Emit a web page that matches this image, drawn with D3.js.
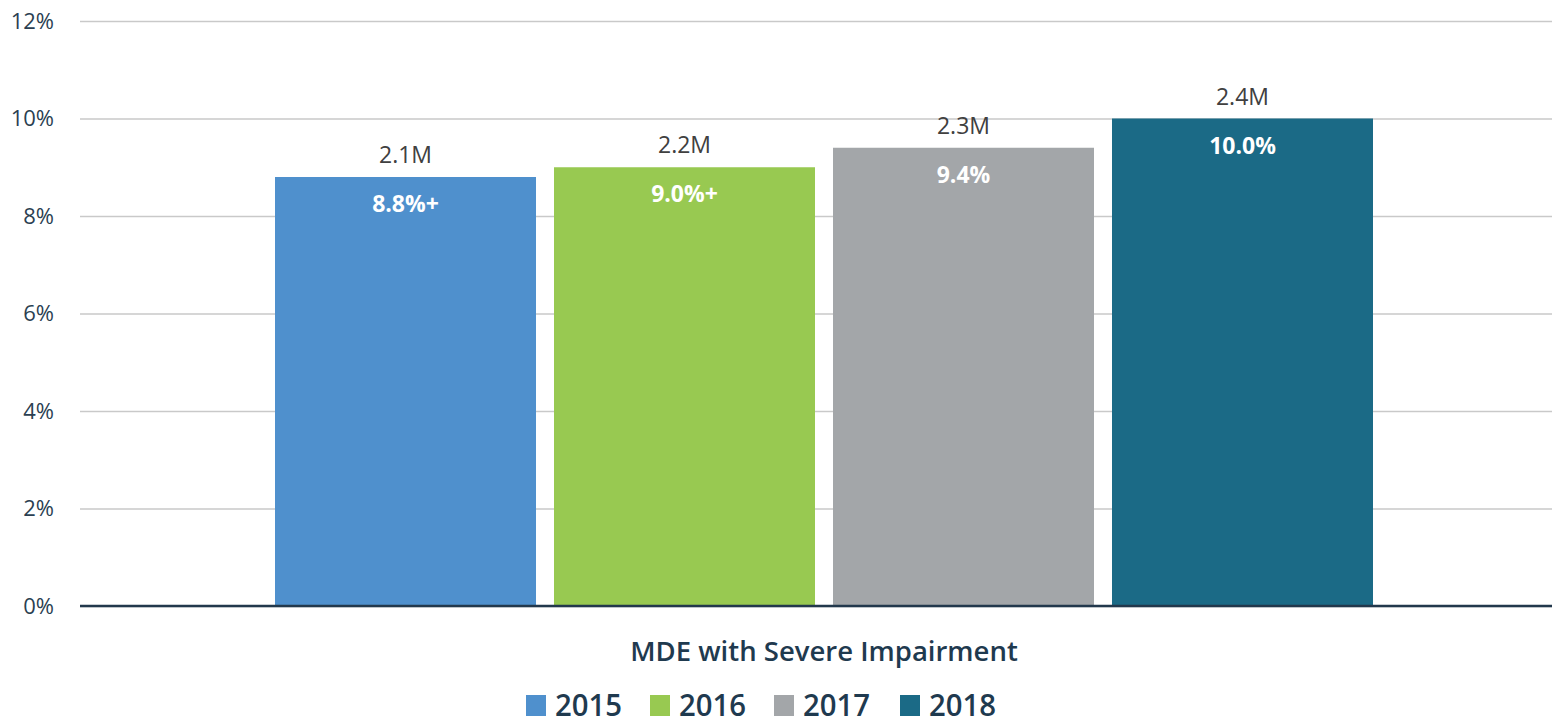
<!DOCTYPE html>
<html>
<head>
<meta charset="utf-8">
<script src="https://cdn.jsdelivr.net/npm/d3@7"></script>
<style>
  html, body { margin: 0; padding: 0; background: #fff; }
  svg { display: block; font-family: "Open Sans", "Noto Sans", sans-serif; }
</style>
</head>
<body>
<svg id="chart" width="1552" height="725"></svg>
<script>
// Chart data
const categories = ["MDE with Severe Impairment"];
const years = ["2015", "2016", "2017", "2018"];
const percentValues = [8.8, 9.0, 9.4, 10.0];
const percentLabels = ["8.8%+", "9.0%+", "9.4%", "10.0%"];
const countLabels = ["2.1M", "2.2M", "2.3M", "2.4M"];
const yTicks = [0, 2, 4, 6, 8, 10, 12];
const colors = ["#4F90CD", "#98C951", "#A3A6A9", "#1B6A86"];

const svg = d3.select("#chart");
const plot = { left: 80, right: 1552, top: 21, bottom: 606 };

const y = d3.scaleLinear().domain([0, 12]).range([plot.bottom, plot.top]);

const groupRange = [275, 1373];
const x1 = d3.scaleBand().domain(years).range(groupRange).paddingInner(0.0645).paddingOuter(0);

// Gridlines with tick labels
const yAxis = d3.axisLeft(y).tickValues(yTicks).tickFormat(d => d + "%")
  .tickSize(-(plot.right - plot.left)).tickPadding(26);
const gy = svg.append("g").attr("transform", `translate(${plot.left},0)`).call(yAxis);
gy.select(".domain").remove();
gy.selectAll(".tick line").attr("stroke", "#c9c9c9").attr("stroke-width", 1.3);
gy.selectAll(".tick text").attr("fill", "#2b3f52").attr("font-size", 22)
  .attr("font-family", "'Open Sans', sans-serif");

// Bars
const data = years.map((yr, i) => ({ yr, v: percentValues[i], pl: percentLabels[i], cl: countLabels[i], c: colors[i] }));
const g = svg.append("g");
g.selectAll("rect").data(data).join("rect")
  .attr("x", d => x1(d.yr))
  .attr("y", d => y(d.v))
  .attr("width", x1.bandwidth())
  .attr("height", d => y(0) - y(d.v))
  .attr("fill", d => d.c);

// Count labels above bars
g.selectAll("text.count").data(data).join("text").attr("class", "count")
  .attr("x", d => x1(d.yr) + x1.bandwidth() / 2)
  .attr("y", d => y(d.v) - 14)
  .attr("text-anchor", "middle")
  .attr("font-size", 23).attr("fill", "#404040")
  .text(d => d.cl);

// Percent labels inside bars
g.selectAll("text.pct").data(data).join("text").attr("class", "pct")
  .attr("x", d => x1(d.yr) + x1.bandwidth() / 2)
  .attr("y", d => y(d.v) + 35)
  .attr("text-anchor", "middle")
  .attr("font-size", 23).attr("font-weight", 700).attr("fill", "#ffffff")
  .text(d => d.pl);

// Baseline
svg.append("line")
  .attr("x1", plot.left).attr("x2", plot.right)
  .attr("y1", y(0)).attr("y2", y(0))
  .attr("stroke", "#22384c").attr("stroke-width", 2.5);

// Category label
svg.append("text")
  .attr("x", (groupRange[0] + groupRange[1]) / 2)
  .attr("y", 661)
  .attr("text-anchor", "middle")
  .attr("font-size", 27.5).attr("font-weight", 600).attr("fill", "#1f3a4f")
  .text(categories[0]);

// Legend
const legendX = [526, 650, 774, 900];
const lg = svg.append("g");
const items = lg.selectAll("g").data(data).join("g")
  .attr("transform", (d, i) => `translate(${legendX[i]},0)`);
items.append("rect").attr("x", 0).attr("y", 695).attr("width", 20).attr("height", 21).attr("fill", d => d.c);
items.append("text").attr("x", 29).attr("y", 716)
  .attr("font-size", 31).attr("font-weight", 600).attr("fill", "#1f3a4f")
  .attr("textLength", 67).attr("lengthAdjust", "spacingAndGlyphs")
  .text(d => d.yr);
</script>
</body>
</html>
